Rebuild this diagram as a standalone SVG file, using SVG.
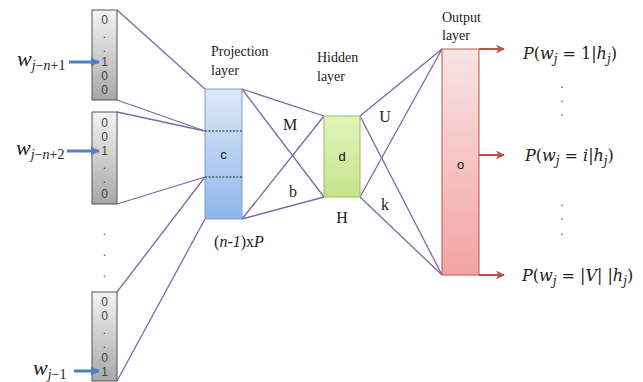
<svg xmlns="http://www.w3.org/2000/svg" width="643" height="382" viewBox="0 0 643 382">
<defs>
<linearGradient id="gIn" x1="0" y1="0" x2="0" y2="1"><stop offset="0" stop-color="#f4f4f4"/><stop offset="1" stop-color="#a8a8a8"/></linearGradient>
<linearGradient id="gProj" x1="0" y1="0" x2="0" y2="1"><stop offset="0" stop-color="#dfe9f7"/><stop offset="1" stop-color="#8fb6ea"/></linearGradient>
<linearGradient id="gHid" x1="0" y1="0" x2="0" y2="1"><stop offset="0" stop-color="#e2f4bd"/><stop offset="1" stop-color="#c4e48a"/></linearGradient>
<linearGradient id="gOut" x1="0" y1="0" x2="0" y2="1"><stop offset="0" stop-color="#f9e4e4"/><stop offset="1" stop-color="#f3a3a3"/></linearGradient>
<marker id="aBlue" viewBox="0 0 10 10" refX="9" refY="5" markerUnits="userSpaceOnUse" markerWidth="9" markerHeight="10" orient="auto"><path d="M0,0 L10,5 L0,10 z" fill="#4f81bd"/></marker>
<marker id="aRed" viewBox="0 0 10 10" refX="9" refY="5" markerUnits="userSpaceOnUse" markerWidth="10" markerHeight="9" orient="auto"><path d="M0,0 L10,5 L0,10 L3,5 z" fill="#c0504d"/></marker>
<style>
.box{stroke:#555;stroke-width:1}
.dig{font-family:"Liberation Sans",Arial,sans-serif;font-size:12px;fill:#444;text-anchor:middle}
.lbl{font-family:"Liberation Serif","Times New Roman",serif;font-size:14px;fill:#222}
.ser{font-family:"Liberation Serif","Times New Roman",serif;font-size:16px;fill:#222;text-anchor:middle}
.math{font-family:"DejaVu Serif","Liberation Serif",serif;font-size:16px;fill:#222}
.wl{font-family:"Liberation Serif","Times New Roman",serif;font-size:22px;fill:#222}
.mi{font-style:italic}
.sub{font-size:12px}
.wsub{font-size:14px}
.con{stroke:#7a68a8;stroke-width:1.3;fill:none}
.blue{stroke:#4f81bd;stroke-width:3;fill:none}
.red{stroke:#c0504d;stroke-width:2;fill:none}
.cap{font-family:"Liberation Sans",Arial,sans-serif;font-size:13px;fill:#111;text-anchor:middle}
</style>
</defs>
<rect width="643" height="382" fill="#fff"/>
<g id="connectors">
<line class="con" x1="117" y1="10" x2="205" y2="89"/>
<line class="con" x1="117" y1="100" x2="205" y2="131"/>
<line class="con" x1="117" y1="112" x2="205" y2="131"/>
<line class="con" x1="117" y1="204" x2="205" y2="177"/>
<line class="con" x1="117" y1="292" x2="205" y2="177"/>
<line class="con" x1="117" y1="381" x2="205" y2="219"/>
<line class="con" x1="242" y1="89" x2="324" y2="116"/>
<line class="con" x1="242" y1="89" x2="324" y2="197"/>
<line class="con" x1="242" y1="219" x2="324" y2="116"/>
<line class="con" x1="242" y1="219" x2="324" y2="197"/>
<line class="con" x1="360" y1="116" x2="442" y2="49"/>
<line class="con" x1="360" y1="116" x2="442" y2="275"/>
<line class="con" x1="360" y1="197" x2="442" y2="49"/>
<line class="con" x1="360" y1="197" x2="442" y2="275"/>
<line class="red" x1="479" y1="49" x2="504" y2="49" marker-end="url(#aRed)"/>
<line class="red" x1="479" y1="155" x2="504" y2="155" marker-end="url(#aRed)"/>
<line class="red" x1="479" y1="275" x2="504" y2="275" marker-end="url(#aRed)"/>
</g>
<g id="input1">
<rect class="box" x="92" y="10" width="25" height="90" fill="url(#gIn)"/>
<text class="dig" x="104.5" y="24">0</text><text class="dig" x="104.5" y="38">.</text><text class="dig" x="104.5" y="52">.</text><text class="dig" x="104.5" y="66">1</text><text class="dig" x="104.5" y="80">0</text><text class="dig" x="104.5" y="94">0</text>
</g>
<g id="input2">
<rect class="box" x="92" y="112" width="25" height="92" fill="url(#gIn)"/>
<text class="dig" x="104.5" y="127">0</text><text class="dig" x="104.5" y="141">0</text><text class="dig" x="104.5" y="155">1</text><text class="dig" x="104.5" y="169">.</text><text class="dig" x="104.5" y="183">.</text><text class="dig" x="104.5" y="198">0</text>
</g>
<g id="inputdots">
<text class="dig" x="104.5" y="235">.</text><text class="dig" x="104.5" y="256">.</text><text class="dig" x="104.5" y="277">.</text>
</g>
<g id="input3">
<rect class="box" x="92" y="292" width="25" height="89" fill="url(#gIn)"/>
<text class="dig" x="104.5" y="306">0</text><text class="dig" x="104.5" y="320">0</text><text class="dig" x="104.5" y="334">.</text><text class="dig" x="104.5" y="348">.</text><text class="dig" x="104.5" y="362">0</text><text class="dig" x="104.5" y="376">1</text>
</g>
<g id="input-arrows">
<line class="blue" x1="69" y1="62" x2="99" y2="62" marker-end="url(#aBlue)"/>
<line class="blue" x1="67" y1="151" x2="99" y2="151" marker-end="url(#aBlue)"/>
<line class="blue" x1="74" y1="371" x2="99" y2="371" marker-end="url(#aBlue)"/>
</g>
<g id="wlabels">
<text class="wl" x="17" y="66"><tspan class="mi">w</tspan><tspan class="wsub" dy="4"><tspan class="mi">j</tspan>−<tspan class="mi">n</tspan>+1</tspan></text>
<text class="wl" x="16" y="155"><tspan class="mi">w</tspan><tspan class="wsub" dy="4"><tspan class="mi">j</tspan>−<tspan class="mi">n</tspan>+2</tspan></text>
<text class="wl" x="33" y="375"><tspan class="mi">w</tspan><tspan class="wsub" dy="4"><tspan class="mi">j</tspan>−1</tspan></text>
</g>
<g id="projection">
<rect x="205" y="89" width="37" height="130" fill="url(#gProj)" stroke="#7f9cc8" stroke-width="1"/>
<line x1="205" y1="131" x2="242" y2="131" stroke="#222" stroke-width="1" stroke-dasharray="2,1.5"/>
<line x1="205" y1="177" x2="242" y2="177" stroke="#222" stroke-width="1" stroke-dasharray="2,1.5"/>
<text class="cap" x="223.5" y="159">c</text>
<text class="lbl" x="211" y="56">Projection</text>
<text class="lbl" x="211" y="75">layer</text>
<text class="ser" x="239" y="247"><tspan>(</tspan><tspan font-style="italic">n-1</tspan><tspan>)x</tspan><tspan font-style="italic">P</tspan></text>
</g>
<g id="hidden">
<rect x="324" y="116" width="36" height="81" fill="url(#gHid)" stroke="#9bbb59" stroke-width="1"/>
<text class="cap" x="342" y="161">d</text>
<text class="lbl" x="317" y="62">Hidden</text>
<text class="lbl" x="317" y="81">layer</text>
</g>
<g id="weights">
<text class="ser" x="290" y="130">M</text>
<text class="ser" x="293" y="197">b</text>
<text class="ser" x="385" y="122">U</text>
<text class="ser" x="385" y="210">k</text>
<text class="ser" x="342" y="223">H</text>
</g>
<g id="output">
<rect x="442" y="49" width="37" height="226" fill="url(#gOut)" stroke="#c0504d" stroke-width="1"/>
<text class="cap" x="460.5" y="169">o</text>
<text class="lbl" x="442" y="22">Output</text>
<text class="lbl" x="442" y="40">layer</text>
</g>
<g id="outlabels">
<text class="math" x="523" y="59"><tspan class="mi">P</tspan>(<tspan class="mi">w</tspan><tspan class="sub mi" dy="4">j</tspan><tspan dy="-4"> = 1|</tspan><tspan class="mi">h</tspan><tspan class="sub mi" dy="4">j</tspan><tspan dy="-4">)</tspan></text>
<text class="math" x="525" y="161"><tspan class="mi">P</tspan>(<tspan class="mi">w</tspan><tspan class="sub mi" dy="4">j</tspan><tspan dy="-4"> = </tspan><tspan class="mi">i</tspan>|<tspan class="mi">h</tspan><tspan class="sub mi" dy="4">j</tspan><tspan dy="-4">)</tspan></text>
<text class="math" x="522" y="281"><tspan class="mi">P</tspan>(<tspan class="mi">w</tspan><tspan class="sub mi" dy="4">j</tspan><tspan dy="-4"> = |</tspan><tspan class="mi">V</tspan>| |<tspan class="mi">h</tspan><tspan class="sub mi" dy="4">j</tspan><tspan dy="-4">)</tspan></text>
<text class="dig" x="562" y="88">.</text><text class="dig" x="562" y="102">.</text><text class="dig" x="562" y="116">.</text>
<text class="dig" x="562" y="206">.</text><text class="dig" x="562" y="220">.</text><text class="dig" x="562" y="235">.</text>
</g>
</svg>
